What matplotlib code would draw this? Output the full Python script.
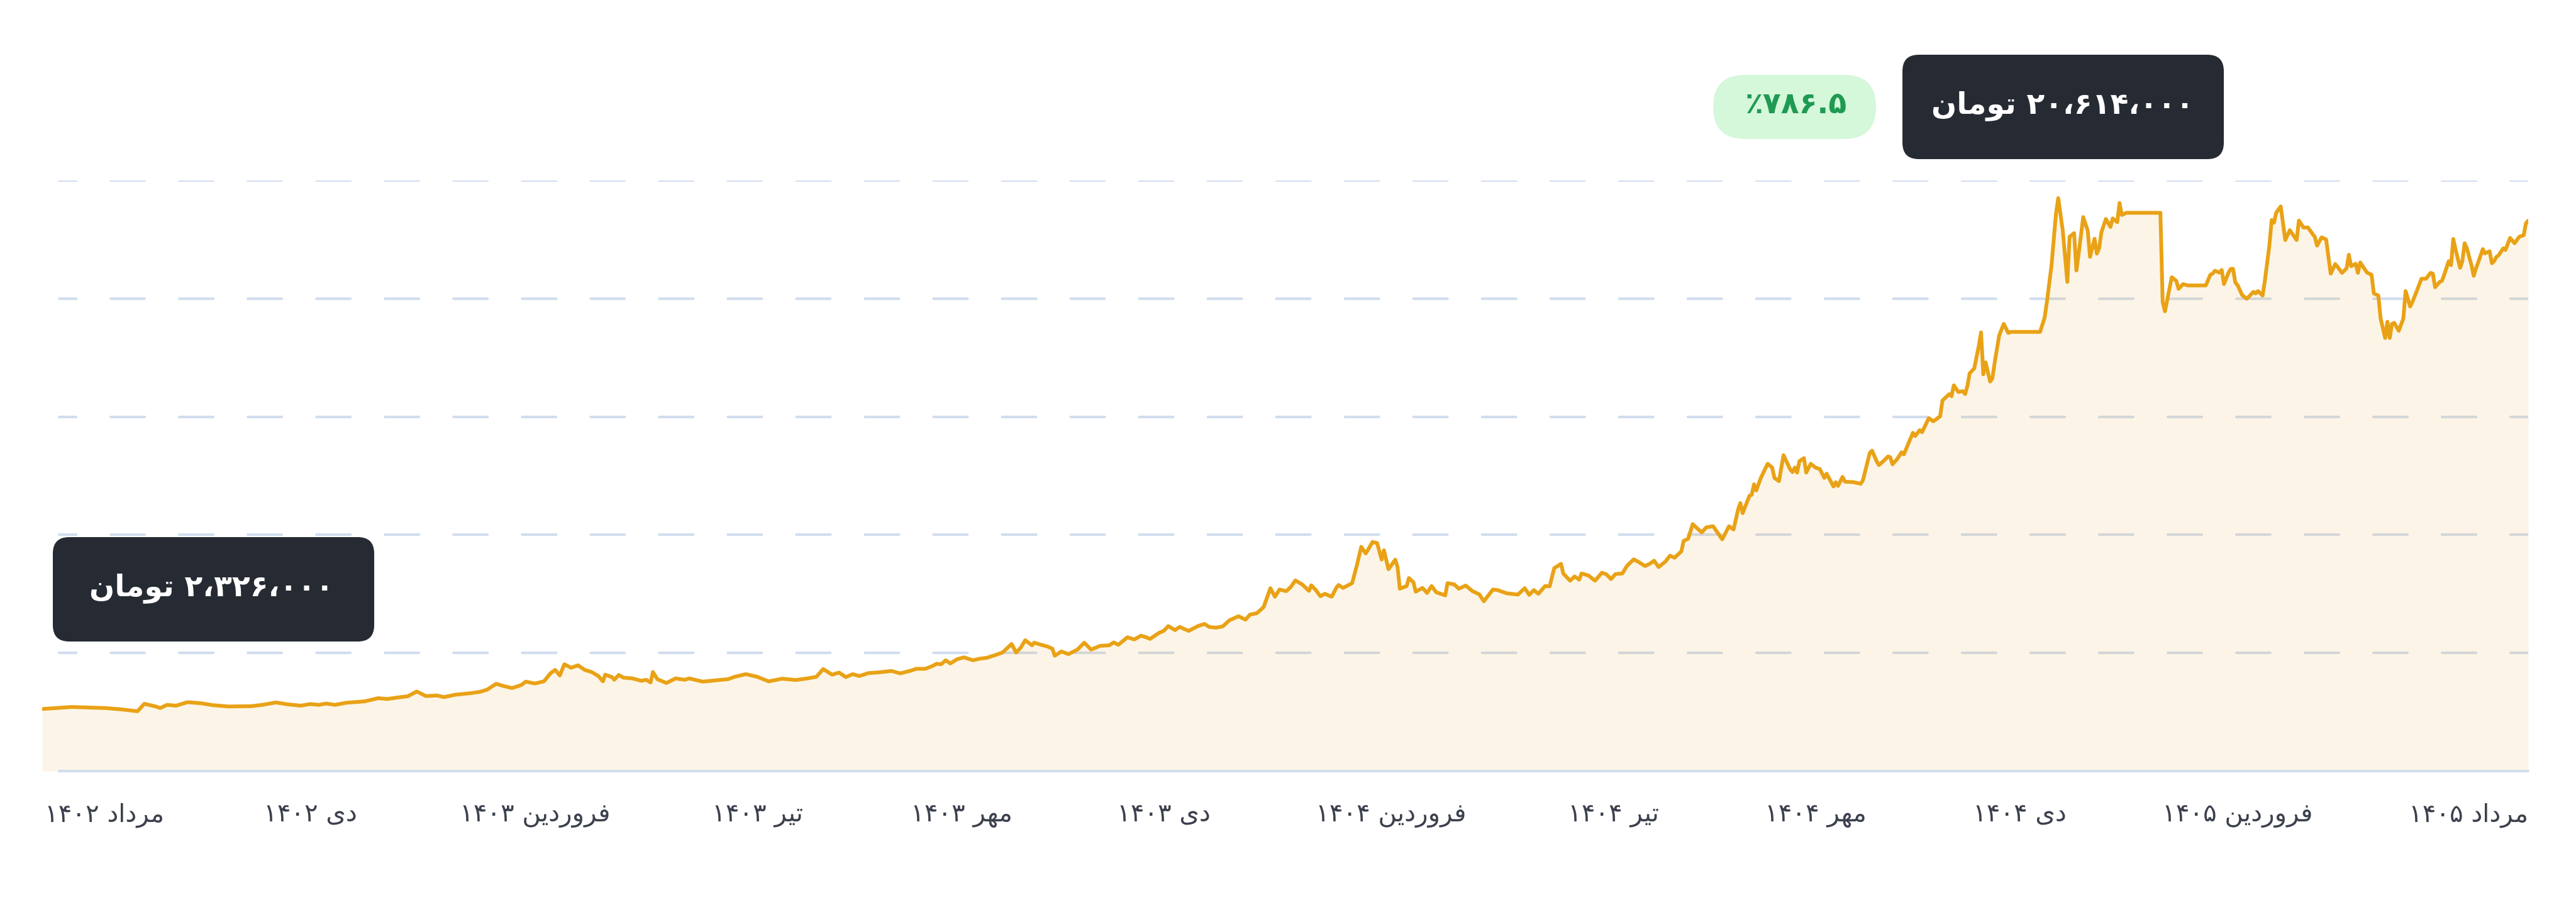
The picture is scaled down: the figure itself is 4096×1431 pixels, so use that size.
import numpy as np
import matplotlib
matplotlib.use("Agg")
import matplotlib.pyplot as plt
from matplotlib.patches import FancyBboxPatch

plt.rcParams['font.family'] = ['DejaVu Sans']
plt.rcParams['lines.scale_dashes'] = False

# price series (day offset, million toman)
days = [0, 13, 28, 35, 42, 45, 50, 52, 55, 59, 64, 70, 75, 82, 92, 97, 103, 108, 114, 118,
        122, 125, 129, 134, 142, 148, 152, 157, 161, 165, 169, 174, 177, 182, 189, 193, 196, 200, 203, 207,
        211, 213, 217, 221, 224, 226, 228, 230, 233, 236, 239, 242, 245, 247, 248, 251, 252, 254, 256, 260,
        264, 266, 268, 269, 271, 275, 279, 283, 285, 291, 298, 302, 305, 310, 315, 320, 326, 332, 337, 341,
        344, 348, 351, 354, 357, 360, 364, 369, 374, 378, 383, 385, 389, 392, 394, 396, 398, 400, 403, 406,
        410, 413, 416, 420, 423, 427, 429, 431, 433, 436, 437, 440, 443, 445, 446, 449, 452, 456, 459, 462,
        466, 470, 472, 474, 478, 481, 484, 486, 488, 492, 494, 496, 499, 501, 505, 509, 512, 514, 517, 520,
        523, 527, 530, 532, 535, 538, 541, 543, 545, 548, 550, 552, 555, 558, 559, 561, 563, 565, 568, 570,
        571, 573, 577, 579, 581, 583, 586, 588, 590, 591, 593, 596, 597, 598, 601, 602, 604, 605, 608, 610,
        612, 614, 618, 619, 622, 624, 627, 630, 633, 635, 639, 641, 645, 650, 653, 655, 657, 659, 662, 664,
        666, 669, 670, 673, 675, 677, 678, 681, 684, 687, 689, 691, 693, 696, 698, 701, 703, 706, 708, 710,
        712, 715, 717, 719, 722, 723, 725, 727, 729, 731, 733, 736, 740, 743, 745, 747, 748, 749, 752, 753,
        754, 755, 757, 760, 762, 763, 765, 767, 770, 771, 772, 773, 774, 776, 777, 779, 781, 783, 785, 786,
        789, 790, 791, 793, 794, 798, 801, 802, 805, 806, 808, 809, 811, 813, 814, 815, 817, 819, 820, 822,
        824, 825, 827, 828, 831, 833, 836, 837, 840, 841, 842, 844, 846, 847, 848, 849, 851, 853, 854, 855,
        856, 858, 859, 860, 862, 864, 866, 867, 880, 882, 883, 885, 887, 888, 890, 892, 893, 895, 896, 897,
        899, 901, 902, 904, 905, 906, 907, 909, 911, 912, 914, 915, 916, 918, 933, 934, 935, 937, 938, 940,
        941, 943, 945, 953, 955, 956, 957, 959, 960, 961, 963, 964, 965, 966, 967, 969, 971, 974, 975, 976,
        978, 979, 981, 982, 983, 984, 986, 988, 990, 993, 994, 996, 998, 1000, 1001, 1002, 1004, 1006, 1008, 1010,
        1011, 1013, 1015, 1016, 1017, 1019, 1020, 1021, 1024, 1026, 1027, 1029, 1030, 1032, 1033, 1034, 1035, 1036, 1038, 1040,
        1041, 1043, 1044, 1046, 1048, 1050, 1052, 1053, 1054, 1056, 1057, 1058, 1060, 1061, 1062, 1063, 1065, 1066, 1067, 1068,
        1070, 1071, 1072, 1073, 1075, 1076, 1078, 1079, 1080, 1081, 1082, 1084, 1085, 1087, 1089, 1091, 1093, 1094, 1095]

prices = [2.326, 2.40, 2.36, 2.31, 2.24, 2.52, 2.42, 2.36, 2.48, 2.45, 2.58, 2.54, 2.47, 2.42, 2.43, 2.48, 2.57, 2.50, 2.45, 2.51,
          2.48, 2.53, 2.48, 2.56, 2.61, 2.73, 2.70, 2.76, 2.80, 2.98, 2.81, 2.83, 2.77, 2.86, 2.92, 2.97, 3.05, 3.27, 3.19, 3.11,
          3.22, 3.35, 3.28, 3.36, 3.67, 3.79, 3.58, 4.00, 3.87, 3.96, 3.79, 3.71, 3.56, 3.36, 3.61, 3.52, 3.42, 3.60, 3.50, 3.47,
          3.38, 3.42, 3.32, 3.71, 3.44, 3.30, 3.47, 3.42, 3.47, 3.35, 3.41, 3.44, 3.53, 3.63, 3.53, 3.36, 3.46, 3.41, 3.47, 3.53,
          3.82, 3.61, 3.69, 3.52, 3.63, 3.56, 3.67, 3.70, 3.75, 3.66, 3.77, 3.83, 3.83, 3.93, 4.02, 4.00, 4.15, 4.03, 4.19, 4.26,
          4.15, 4.21, 4.24, 4.35, 4.44, 4.76, 4.44, 4.62, 4.90, 4.71, 4.81, 4.73, 4.66, 4.58, 4.32, 4.48, 4.38, 4.55, 4.81, 4.55,
          4.69, 4.71, 4.82, 4.73, 5.01, 4.93, 5.07, 5.02, 4.95, 5.18, 5.25, 5.43, 5.28, 5.40, 5.25, 5.43, 5.51, 5.40, 5.37, 5.42,
          5.65, 5.80, 5.67, 5.86, 5.91, 6.14, 6.85, 6.53, 6.80, 6.74, 6.90, 7.14, 6.99, 6.75, 6.96, 6.78, 6.55, 6.64, 6.53, 6.86,
          6.97, 6.86, 7.04, 7.68, 8.40, 8.15, 8.58, 8.54, 7.92, 8.27, 7.56, 7.92, 7.64, 6.83, 6.93, 7.23, 7.07, 6.72, 6.86, 6.67,
          6.93, 6.70, 6.58, 7.04, 6.99, 6.83, 6.95, 6.74, 6.62, 6.36, 6.80, 6.78, 6.66, 6.61, 6.85, 6.60, 6.78, 6.64, 6.93, 6.92,
          7.60, 7.76, 7.40, 7.13, 7.29, 7.17, 7.40, 7.33, 7.13, 7.43, 7.37, 7.19, 7.38, 7.40, 7.68, 7.93, 7.84, 7.68, 7.76, 7.88,
          7.64, 7.85, 8.07, 7.99, 8.23, 8.62, 8.70, 9.25, 9.09, 8.94, 9.13, 9.17, 8.68, 9.17, 9.05, 9.80, 10.04, 9.66, 10.31, 10.35,
          10.74, 10.51, 10.98, 11.51, 11.37, 10.98, 10.86, 11.83, 11.29, 11.20, 11.37, 11.18, 11.61, 11.72, 11.18, 11.51, 11.37, 11.31, 10.98, 11.14,
          10.66, 10.82, 10.68, 11.02, 10.84, 10.82, 10.76, 10.90, 11.92, 12.00, 11.61, 11.46, 11.61, 11.78, 11.76, 11.49, 11.68, 11.94, 11.86, 12.27,
          12.67, 12.55, 12.77, 12.69, 13.22, 13.10, 13.29, 13.88, 14.12, 14.04, 14.45, 14.20, 14.23, 14.12, 14.43, 14.90, 15.08, 15.92, 16.43, 14.86,
          15.31, 14.59, 14.71, 15.30, 16.32, 16.75, 16.41, 16.45, 16.45, 16.98, 17.57, 18.91, 20.87, 21.46, 20.24, 18.32, 20.01, 20.15, 18.75, 19.38,
          20.75, 20.24, 19.26, 19.94, 19.38, 19.58, 20.18, 20.68, 20.38, 20.70, 20.56, 21.28, 20.83, 20.91, 20.91, 17.57, 17.22, 18.08, 18.50, 18.36,
          18.06, 18.24, 18.19, 18.19, 18.59, 18.63, 18.74, 18.67, 18.77, 18.24, 18.67, 18.81, 18.81, 18.30, 18.20, 17.83, 17.69, 17.95, 17.89, 17.98,
          17.81, 18.36, 19.69, 20.64, 20.54, 20.91, 21.15, 19.89, 20.26, 19.89, 20.62, 20.36, 20.36, 20.12, 20.01, 19.68, 19.99, 19.91, 18.63, 18.99,
          18.89, 18.66, 18.83, 19.34, 18.91, 19.00, 18.66, 19.05, 18.67, 18.59, 17.89, 17.81, 16.95, 16.22, 16.83, 16.22, 16.75, 16.79, 16.49, 16.95,
          17.98, 17.40, 17.57, 18.00, 18.44, 18.44, 18.66, 18.63, 18.12, 18.32, 18.36, 18.59, 19.10, 18.95, 19.93, 19.54, 18.85, 19.10, 19.77, 19.58,
          18.95, 18.55, 18.83, 19.06, 19.55, 19.39, 19.47, 19.02, 19.10, 19.26, 19.32, 19.58, 19.52, 19.97, 19.77, 20.01, 20.07, 20.52, 20.614]

tick_labels = ['مرداد ۱۴۰۲', 'دی ۱۴۰۲', 'فروردین ۱۴۰۳', 'تیر ۱۴۰۳', 'مهر ۱۴۰۳', 'دی ۱۴۰۳',
               'فروردین ۱۴۰۴', 'تیر ۱۴۰۴', 'مهر ۱۴۰۴', 'دی ۱۴۰۴', 'فروردین ۱۴۰۵', 'مرداد ۱۴۰۵']
tick_days = [1, 118, 217, 315, 405, 494, 594, 692, 781, 871, 967, 1095]

first_price = 2326000
last_price = 20614000
change_pct = '۷۸۶.۵'

y_top = 22.12e6
gold = '#e9a216'
grid_c = '#d2ddef'

# --- tiny persian shaping (matplotlib has no bidi / joining) ---
FORMS = {
    'ا': ('\uFE8D', '\uFE8E', None, None),
    'د': ('\uFEA9', '\uFEAA', None, None),
    'ر': ('\uFEAD', '\uFEAE', None, None),
    'و': ('\uFEED', '\uFEEE', None, None),
    'ت': ('\uFE95', '\uFE96', '\uFE97', '\uFE98'),
    'ف': ('\uFED1', '\uFED2', '\uFED3', '\uFED4'),
    'م': ('\uFEE1', '\uFEE2', '\uFEE3', '\uFEE4'),
    'ن': ('\uFEE5', '\uFEE6', '\uFEE7', '\uFEE8'),
    'ه': ('\uFEE9', '\uFEEA', '\uFEEB', '\uFEEC'),
    'ی': ('\uFEEF', '\uFEF0', '\uFEF3', '\uFEF4'),
}


def dual(c):
    return c in FORMS and FORMS[c][2] is not None


def shape_word(w):
    out = []
    for i, c in enumerate(w):
        if c not in FORMS:
            out.append(c)
            continue
        prev_j = i > 0 and dual(w[i - 1])
        next_j = dual(c) and i < len(w) - 1 and w[i + 1] in FORMS
        iso, fin, ini, med = FORMS[c]
        if prev_j and next_j:
            out.append(med)
        elif next_j:
            out.append(ini)
        elif prev_j:
            out.append(fin)
        else:
            out.append(iso)
    return ''.join(out[::-1])


def fa(text):
    parts = text.split(' ')
    vis = []
    for p in parts[::-1]:
        if any(ch in FORMS for ch in p):
            vis.append(shape_word(p))
        else:
            vis.append(p)
    return ' '.join(vis)


def fa_num(n):
    s = f'{n:,}'.replace(',', '،')
    return s.translate(str.maketrans('0123456789', '۰۱۲۳۴۵۶۷۸۹'))


W, H = 4096, 1431
fig = plt.figure(figsize=(W / 100, H / 100), dpi=100, facecolor='white')
x0, x1, yb, yt = 67, 4020, 1226, 287
ax = fig.add_axes([x0 / W, 1 - yb / H, (x1 - x0) / W, (yb - yt) / H])

x = np.array(days)
y = np.array(prices) * 1e6

# dashed grid, starts a bit right of the plot edge
gx0 = (94 - x0) / (x1 - x0)
for g in np.linspace(0, y_top, 6)[1:]:
    ax.plot([gx0, 1], [g, g], transform=ax.get_yaxis_transform(), color=grid_c, lw=3.0,
            linestyle=(19.4, (38.9, 39.6)), solid_capstyle='round', dash_capstyle='round', zorder=1)
ax.plot([gx0, 1], [0, 0], transform=ax.get_yaxis_transform(), color=grid_c, lw=3.0,
        solid_capstyle='round', zorder=4, clip_on=False)

ax.fill_between(x, y, 0, color=gold, alpha=0.1, lw=0, zorder=2)
ax.plot(x, y, color=gold, lw=4.3, solid_joinstyle='round', solid_capstyle='round', zorder=3)

ax.set_xlim(0, 1095)
ax.set_ylim(0, y_top)
ax.set_yticks([])
ax.set_xticks(tick_days, [fa(t) for t in tick_labels])
ax.tick_params(axis='x', length=0, pad=36, labelsize=29, labelcolor='#3b404c')
lbls = ax.get_xticklabels()
lbls[0].set_ha('left')
lbls[-1].set_ha('right')
for s in ax.spines.values():
    s.set_visible(False)
ax.patch.set_visible(False)

# overlay in pixel coordinates for the tooltip boxes
ov = fig.add_axes([0, 0, 1, 1])
ov.set_xlim(0, W)
ov.set_ylim(H, 0)
ov.axis('off')
ov.patch.set_visible(False)

dark = '#262b33'
ov.add_patch(FancyBboxPatch((3025, 87), 511, 166, boxstyle='round,pad=0,rounding_size=26',
                            fc=dark, ec='none'))
ov.text(3280, 168, fa(fa_num(last_price) + ' تومان'), color='white', fontsize=34,
        fontweight='bold', ha='center', va='center')

ov.add_patch(FancyBboxPatch((2724, 119), 259, 102, boxstyle='round,pad=0,rounding_size=51',
                            fc='#d5f7da', ec='none'))
ov.text(2856, 168, '٪' + change_pct, color='#1f9a53', fontsize=34,
        fontweight='bold', ha='center', va='center')

ov.add_patch(FancyBboxPatch((84, 854), 511, 166, boxstyle='round,pad=0,rounding_size=26',
                            fc=dark, ec='none'))
ov.text(336, 935, fa(fa_num(first_price) + ' تومان'), color='white', fontsize=34,
        fontweight='bold', ha='center', va='center')

fig.savefig('out.png', dpi=100, facecolor='white')
